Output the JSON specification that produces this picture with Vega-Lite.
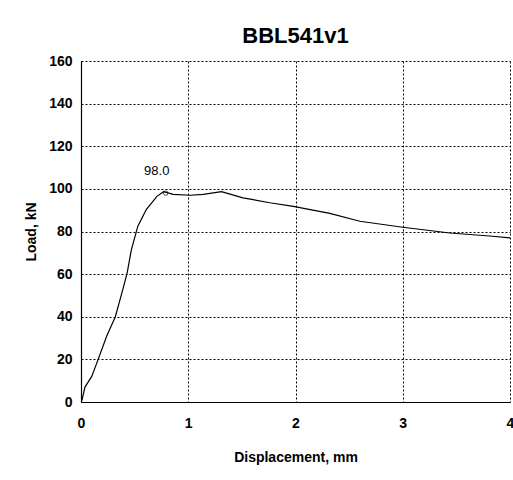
{
  "$schema": "https://vega.github.io/schema/vega-lite/v6.json",
  "autosize": "none",
  "width": 429,
  "height": 341,
  "padding": {"left": 81, "top": 61, "right": 3, "bottom": 78},
  "background": "white",
  "title": {"text": "BBL541v1", "font": "Liberation Sans", "fontSize": 22, "fontWeight": "bold", "color": "black", "offset": 6, "anchor": "middle"},
  "config": {
    "view": {"stroke": null},
    "axis": {
      "labelFont": "Liberation Sans", "labelFontWeight": "bold", "labelFontSize": 14, "labelColor": "black",
      "titleFont": "Liberation Sans", "titleFontWeight": "bold", "titleFontSize": 14, "titleColor": "black",
      "grid": true, "gridColor": "black", "gridDash": [2, 2], "gridWidth": 1, "gridOpacity": 1,
      "domainColor": "black", "domainWidth": 1.2, "ticks": false, "labelFlush": false
    }
  },
  "datasets": {
    "curve": [
      {"d": 0.0, "load": 0},
      {"d": 0.01, "load": 1},
      {"d": 0.037, "load": 7},
      {"d": 0.10, "load": 12},
      {"d": 0.16, "load": 20},
      {"d": 0.24, "load": 31},
      {"d": 0.32, "load": 40},
      {"d": 0.38, "load": 51},
      {"d": 0.43, "load": 60.5},
      {"d": 0.47, "load": 71.5},
      {"d": 0.53, "load": 82.5},
      {"d": 0.61, "load": 90.4},
      {"d": 0.71, "load": 96.6},
      {"d": 0.77, "load": 98.7},
      {"d": 0.86, "load": 97.4},
      {"d": 1.02, "load": 97.0},
      {"d": 1.14, "load": 97.4},
      {"d": 1.31, "load": 98.7},
      {"d": 1.51, "load": 95.8},
      {"d": 1.76, "load": 93.5},
      {"d": 1.98, "load": 91.8},
      {"d": 2.32, "load": 88.5},
      {"d": 2.60, "load": 84.8},
      {"d": 3.0, "load": 82.0},
      {"d": 3.44, "load": 79.3},
      {"d": 3.81, "load": 77.9},
      {"d": 4.0, "load": 77.0}
    ],
    "peak": [{"d": 0.79, "load": 98.0, "label": "98.0"}]
  },
  "layer": [
    {
      "data": {"name": "curve"},
      "mark": {"type": "line", "color": "black", "strokeWidth": 1.2, "clip": true},
      "encoding": {
        "x": {"field": "d", "type": "quantitative", "scale": {"domain": [0, 4], "nice": false},
              "axis": {"values": [0, 1, 2, 3, 4], "format": "d", "title": "Displacement, mm", "labelPadding": 14, "titlePadding": 20}},
        "y": {"field": "load", "type": "quantitative", "scale": {"domain": [0, 160], "nice": false},
              "axis": {"values": [0, 20, 40, 60, 80, 100, 120, 140, 160], "title": "Load, kN", "labelPadding": 9, "titlePadding": 10}}
      }
    },
    {
      "data": {"name": "peak"},
      "mark": {"type": "point", "shape": "circle", "size": 20, "color": "black", "filled": false, "strokeWidth": 1},
      "encoding": {
        "x": {"field": "d", "type": "quantitative"},
        "y": {"field": "load", "type": "quantitative"}
      }
    },
    {
      "data": {"name": "peak"},
      "mark": {"type": "text", "font": "Liberation Sans", "fontSize": 13, "color": "black", "dx": -9, "dy": -22},
      "encoding": {
        "x": {"field": "d", "type": "quantitative"},
        "y": {"field": "load", "type": "quantitative"},
        "text": {"field": "label"}
      }
    }
  ]
}
